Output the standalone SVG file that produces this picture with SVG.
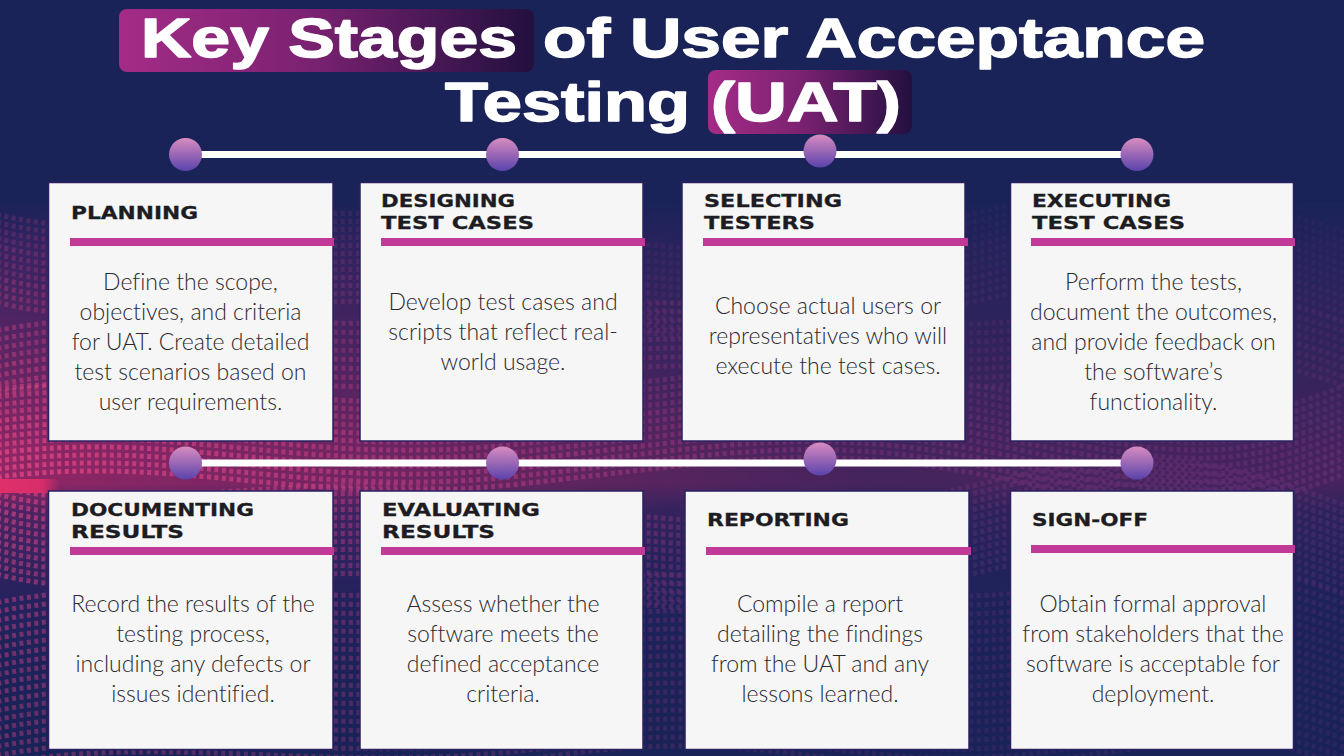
<svg xmlns="http://www.w3.org/2000/svg" width="1344" height="756" viewBox="0 0 1344 756">
<defs>
<linearGradient id="wash" x1="0" y1="200" x2="0" y2="756" gradientUnits="userSpaceOnUse">
<stop offset="0" stop-color="#3a2268" stop-opacity="0"/><stop offset="0.08" stop-color="#4a2468" stop-opacity="0.6"/><stop offset="0.3" stop-color="#7a2668" stop-opacity="0.75"/><stop offset="0.45" stop-color="#a32768" stop-opacity="0.85"/><stop offset="0.51" stop-color="#a82768" stop-opacity="0.85"/><stop offset="0.56" stop-color="#5a2468" stop-opacity="0.8"/><stop offset="0.72" stop-color="#2d2262" stop-opacity="0.6"/><stop offset="1" stop-color="#1a2358" stop-opacity="0"/>
</linearGradient>
<linearGradient id="hfade" x1="0" y1="0" x2="1" y2="0"><stop offset="0" stop-color="#fff"/><stop offset="0.3" stop-color="#b0b0b0"/><stop offset="0.65" stop-color="#5c5c5c"/><stop offset="1" stop-color="#606060"/></linearGradient>
<mask id="hmask" maskUnits="userSpaceOnUse" x="0" y="0" width="1344" height="756"><rect width="1344" height="756" fill="url(#hfade)"/></mask>
<linearGradient id="lineCol" gradientUnits="userSpaceOnUse" x1="0" y1="0" x2="1344" y2="0"><stop offset="0" stop-color="#ee4a86"/><stop offset="0.5" stop-color="#c2408e"/><stop offset="1" stop-color="#9440a0"/></linearGradient>
<linearGradient id="streak" x1="0" y1="0" x2="1" y2="0"><stop offset="0" stop-color="#e0306c"/><stop offset="0.7" stop-color="#d82d6a"/><stop offset="1" stop-color="#d82d6a" stop-opacity="0"/></linearGradient>
<path id="w1" class="wave" d="M-10 0C180 -26 300 30 520 6S820 -38 1020 4S1260 28 1360 -10"/>
<path id="w2" class="wave" d="M-10 -10C120 30 300 -32 500 2S780 38 980 -10S1230 -26 1360 16"/>
<path id="w3" class="wave" d="M-10 14C160 -22 340 26 560 -6S860 28 1060 -2S1270 -20 1360 10"/>
<g id="r1"><use href="#w1"/><use href="#w1" y="8"/><use href="#w1" y="16"/><use href="#w1" y="24"/></g>
<g id="r2"><use href="#w2"/><use href="#w2" y="8"/><use href="#w2" y="16"/><use href="#w2" y="24"/></g>
<g id="r3"><use href="#w3"/><use href="#w3" y="9"/><use href="#w3" y="18"/><use href="#w3" y="27"/></g>
<linearGradient id="chip" x1="0" y1="0" x2="1" y2="0"><stop offset="0" stop-color="#a42c86"/><stop offset="0.45" stop-color="#7c2272"/><stop offset="1" stop-color="#22103f"/></linearGradient>
<linearGradient id="ball" x1="0" y1="0" x2="0" y2="1"><stop offset="0" stop-color="#d88cc0"/><stop offset="1" stop-color="#5a42ab"/></linearGradient>
<style>
.wave{fill:none;stroke:url(#lineCol);stroke-width:5;stroke-dasharray:4 3.500}
.title{font-family:"Liberation Sans",Arial,sans-serif;font-weight:700;font-size:56px;fill:#fff;stroke:#fff;stroke-width:1.500;stroke-linejoin:round}
.card{fill:#f6f6f7;stroke:#2a2060;stroke-width:1.500}
.bar{fill:#c13a98}
.head{font-family:"DejaVu Sans","Liberation Sans",sans-serif;font-weight:700;font-size:18.500px;fill:#1c1c22;stroke:#1c1c22;stroke-width:.3}
.body{font-family:"Lato","Liberation Sans",sans-serif;font-weight:300;font-size:23px;fill:#2a2a2e;text-anchor:middle;font-variant-ligatures:none}
.line{stroke:#fff;stroke-width:7;fill:none}
.dot{fill:url(#ball)}
</style>
</defs>
<rect width="1344" height="756" fill="#1a2358"/>
<g id="background">
<rect y="200" width="1344" height="556" fill="url(#wash)" mask="url(#hmask)"/>
<g mask="url(#hmask)">
<use href="#r2" y="222" opacity="0.18"/><use href="#r2" y="254" opacity="0.22"/><use href="#r2" y="286" opacity="0.28"/>
<use href="#r3" y="318" opacity="0.35"/><use href="#r3" y="354" opacity="0.42"/><use href="#r1" y="390" opacity="0.5"/>
<use href="#r1" y="422" opacity="0.62"/><use href="#r1" y="454" opacity="0.7"/>
<use href="#r2" y="494" opacity="0.55"/><use href="#r2" y="526" opacity="0.5"/><use href="#r2" y="558" opacity="0.46"/>
<use href="#r3" y="590" opacity="0.42"/><use href="#r3" y="626" opacity="0.4"/><use href="#r3" y="662" opacity="0.38"/><use href="#r3" y="698" opacity="0.36"/><use href="#r3" y="734" opacity="0.34"/>
</g>
<rect x="0" y="479" width="60" height="14" fill="url(#streak)"/>
</g>

<g id="title">
<rect x="119" y="9" width="415" height="63" rx="8" fill="url(#chip)"/>
<rect x="708" y="70" width="204" height="64" rx="8" fill="url(#chip)"/>
<text class="title" x="141" y="57" textLength="376" lengthAdjust="spacingAndGlyphs">Key Stages</text>
<text class="title" x="543" y="57" textLength="662" lengthAdjust="spacingAndGlyphs">of User Acceptance</text>
<text class="title" x="445" y="121" textLength="245" lengthAdjust="spacingAndGlyphs">Testing</text>
<text class="title" x="711" y="121" textLength="190" lengthAdjust="spacingAndGlyphs">(UAT)</text>
</g>

<g id="connectors">
<path class="line" d="M185 154.500H1137"/>
<path class="line" d="M185 463H1137"/>
</g>
<g id="timeline-dots">
<circle class="dot" cx="185.500" cy="154.500" r="16.500"/><circle class="dot" cx="502.500" cy="154.500" r="16.500"/><circle class="dot" cx="820" cy="151" r="16.500"/><circle class="dot" cx="1137" cy="154.500" r="16.500"/>
<circle class="dot" cx="185.500" cy="463" r="16.500"/><circle class="dot" cx="502.500" cy="463" r="16.500"/><circle class="dot" cx="820" cy="459" r="16.500"/><circle class="dot" cx="1137" cy="463" r="16.500"/>
</g>

<g id="planning"><rect class="card" x="48.500" y="182.500" width="284.500" height="258.500"/><rect class="bar" x="70" y="238" width="264" height="8"/>
<text class="head" x="71" y="219" textLength="127" lengthAdjust="spacingAndGlyphs">PLANNING</text>
<text class="body" x="190.500" y="290">Define the scope,</text><text class="body" x="190.500" y="320">objectives, and criteria</text><text class="body" x="190.500" y="350">for UAT. Create detailed</text><text class="body" x="190.500" y="380">test scenarios based on</text><text class="body" x="190.500" y="410">user requirements.</text></g>

<g id="designing"><rect class="card" x="360" y="182.500" width="283" height="258.500"/><rect class="bar" x="381" y="238" width="264" height="8"/>
<text class="head" x="381" y="207" textLength="134" lengthAdjust="spacingAndGlyphs">DESIGNING</text><text class="head" x="381" y="229" textLength="153" lengthAdjust="spacingAndGlyphs">TEST CASES</text>
<text class="body" x="503" y="310">Develop test cases and</text><text class="body" x="503" y="340">scripts that reflect real-</text><text class="body" x="503" y="370">world usage.</text></g>

<g id="selecting"><rect class="card" x="682" y="182.500" width="283" height="258.500"/><rect class="bar" x="703" y="238" width="265" height="8"/>
<text class="head" x="704" y="207" textLength="138" lengthAdjust="spacingAndGlyphs">SELECTING</text><text class="head" x="704" y="229" textLength="111" lengthAdjust="spacingAndGlyphs">TESTERS</text>
<text class="body" x="828" y="314">Choose actual users or</text><text class="body" x="828" y="344">representatives who will</text><text class="body" x="828" y="374">execute the test cases.</text></g>

<g id="executing"><rect class="card" x="1010.500" y="182.500" width="283" height="258.500"/><rect class="bar" x="1031" y="238" width="264" height="8"/>
<text class="head" x="1032" y="207" textLength="139" lengthAdjust="spacingAndGlyphs">EXECUTING</text><text class="head" x="1032" y="229" textLength="153" lengthAdjust="spacingAndGlyphs">TEST CASES</text>
<text class="body" x="1153.500" y="290">Perform the tests,</text><text class="body" x="1153.500" y="320">document the outcomes,</text><text class="body" x="1153.500" y="350">and provide feedback on</text><text class="body" x="1153.500" y="380">the software’s</text><text class="body" x="1153.500" y="410">functionality.</text></g>

<g id="documenting"><rect class="card" x="48.500" y="491" width="284.500" height="258.500"/><rect class="bar" x="70" y="547" width="264" height="8"/>
<text class="head" x="71" y="516" textLength="183" lengthAdjust="spacingAndGlyphs">DOCUMENTING</text><text class="head" x="71" y="538" textLength="113" lengthAdjust="spacingAndGlyphs">RESULTS</text>
<text class="body" x="193" y="612">Record the results of the</text><text class="body" x="193" y="642">testing process,</text><text class="body" x="193" y="672">including any defects or</text><text class="body" x="193" y="702">issues identified.</text></g>

<g id="evaluating"><rect class="card" x="360" y="491" width="283" height="258.500"/><rect class="bar" x="381" y="547" width="264" height="8"/>
<text class="head" x="382" y="516" textLength="158" lengthAdjust="spacingAndGlyphs">EVALUATING</text><text class="head" x="382" y="538" textLength="113" lengthAdjust="spacingAndGlyphs">RESULTS</text>
<text class="body" x="503" y="612">Assess whether the</text><text class="body" x="503" y="642">software meets the</text><text class="body" x="503" y="672">defined acceptance</text><text class="body" x="503" y="702">criteria.</text></g>

<g id="reporting"><rect class="card" x="685" y="491" width="284" height="258.500"/><rect class="bar" x="706" y="547" width="265" height="8"/>
<text class="head" x="707" y="526" textLength="142" lengthAdjust="spacingAndGlyphs">REPORTING</text>
<text class="body" x="820" y="612">Compile a report</text><text class="body" x="820" y="642">detailing the findings</text><text class="body" x="820" y="672">from the UAT and any</text><text class="body" x="820" y="702">lessons learned.</text></g>

<g id="signoff"><rect class="card" x="1010.500" y="491" width="283" height="258.500"/><rect class="bar" x="1031" y="545" width="264" height="8"/>
<text class="head" x="1032" y="526" textLength="116" lengthAdjust="spacingAndGlyphs">SIGN-OFF</text>
<text class="body" x="1153" y="612">Obtain formal approval</text><text class="body" x="1153" y="642">from stakeholders that the</text><text class="body" x="1153" y="672">software is acceptable for</text><text class="body" x="1153" y="702">deployment.</text></g>
</svg>
